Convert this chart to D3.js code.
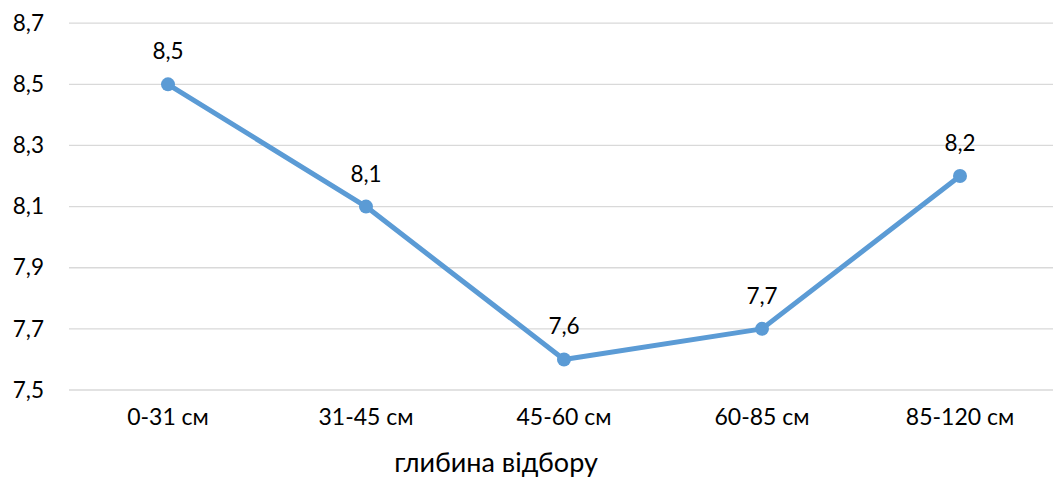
<!DOCTYPE html>
<html>
<head>
<meta charset="utf-8">
<script src="https://cdn.jsdelivr.net/npm/d3@7"></script>
<style>
  html, body { margin: 0; padding: 0; background: #fff; }
  svg { display: block; font-family: Lato, "Open Sans", sans-serif; }
</style>
</head>
<body>
<svg id="chart" width="1053" height="479"></svg>
<script>
// Sampling depths and measured values
const categories = ["0-31 см", "31-45 см", "45-60 см", "60-85 см", "85-120 см"];
const values = [8.5, 8.1, 7.6, 7.7, 8.2];
const yTicks = [7.5, 7.7, 7.9, 8.1, 8.3, 8.5, 8.7];
const axisTitle = "глибина відбору";

const svg = d3.select("#chart");
const fmt = v => d3.format(".1f")(v).replace(".", ",");
const FONT = 22.5;

const x = d3.scaleBand().domain(categories).range([69, 1059]);
const y = d3.scaleLinear().domain([7.5, 8.7]).range([390, 23.2]);
const cx = d => x(d) + x.bandwidth() / 2;

// Horizontal gridlines
svg.append("g")
  .selectAll("line")
  .data(yTicks)
  .join("line")
  .attr("x1", 69).attr("x2", 1053)
  .attr("y1", d => y(d)).attr("y2", d => y(d))
  .attr("stroke", "#d9d9d9").attr("stroke-width", 1.3);

// Y axis labels
const yAxis = svg.append("g")
  .attr("transform", "translate(44,0)")
  .call(d3.axisLeft(y).tickValues(yTicks).tickFormat(fmt).tickSize(0).tickPadding(0));
yAxis.select(".domain").remove();
yAxis.selectAll("text")
  .attr("font-size", FONT).attr("fill", "#000")
  .attr("font-family", "Lato, 'Open Sans', sans-serif");

// X axis labels
const xAxis = svg.append("g")
  .attr("transform", "translate(0,409)")
  .call(d3.axisBottom(x).tickSize(0).tickPadding(0));
xAxis.select(".domain").remove();
xAxis.selectAll("text")
  .attr("font-size", 23).attr("fill", "#000")
  .attr("font-family", "Lato, 'Open Sans', sans-serif");

// Axis title
svg.append("text")
  .attr("x", 496).attr("y", 472)
  .attr("text-anchor", "middle")
  .attr("font-size", 27).attr("fill", "#000")
  .text(axisTitle);

// Series line
const pts = categories.map((c, i) => ({ c, v: values[i] }));
svg.append("path")
  .datum(pts)
  .attr("fill", "none")
  .attr("stroke", "#5b9bd5")
  .attr("stroke-width", 5)
  .attr("stroke-linejoin", "round")
  .attr("d", d3.line().x(d => cx(d.c)).y(d => y(d.v)));

// Markers
svg.append("g")
  .selectAll("circle")
  .data(pts)
  .join("circle")
  .attr("cx", d => cx(d.c)).attr("cy", d => y(d.v))
  .attr("r", 7)
  .attr("fill", "#5b9bd5");

// Data labels
svg.append("g")
  .selectAll("text")
  .data(pts)
  .join("text")
  .attr("x", d => cx(d.c)).attr("y", d => y(d.v) - 25)
  .attr("text-anchor", "middle")
  .attr("font-size", FONT).attr("fill", "#000")
  .text(d => fmt(d.v));
</script>
</body>
</html>
